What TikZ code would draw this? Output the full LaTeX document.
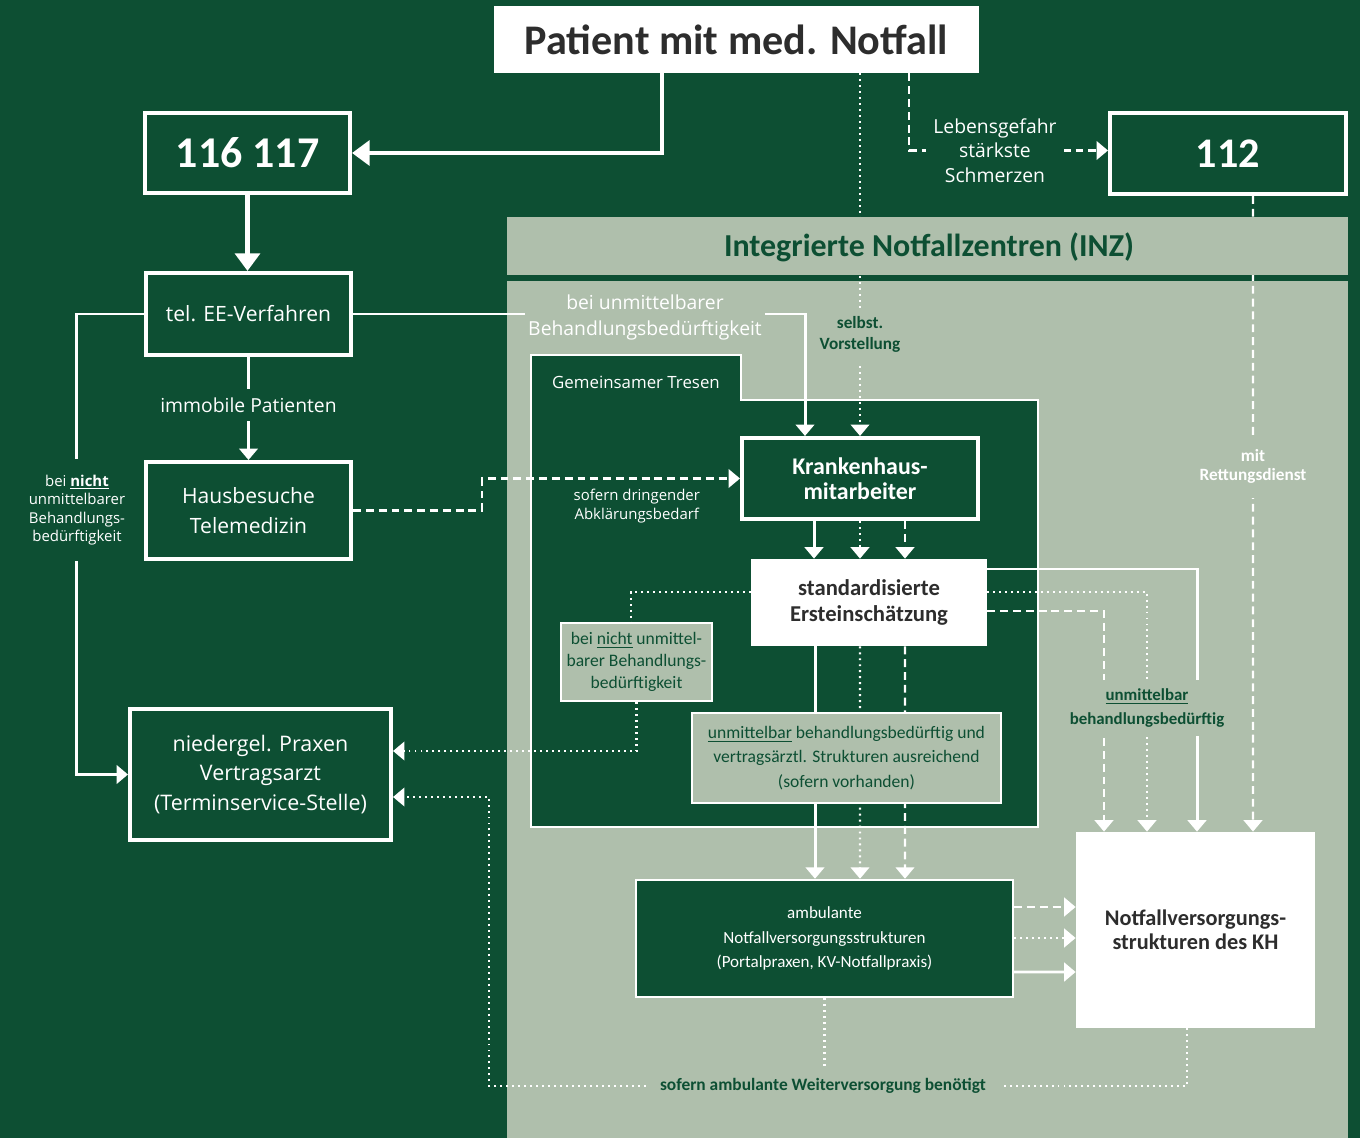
\documentclass[tikz,border=0pt]{standalone}
\usepackage{fontspec}
\setmainfont{Carlito}
\newfontfamily\lightfont{Open Sans}
\usetikzlibrary{arrows.meta}

\definecolor{inzgreen}{RGB}{13,79,51}
\definecolor{inzsage}{RGB}{175,191,172}
\definecolor{inzdark}{RGB}{45,45,45}

\newlength{\px}
\setlength{\px}{0.02cm}

\tikzset{
  box/.style={draw=white, line width=2.3pt, fill=inzgreen, text=white, align=center, inner sep=0pt},
  whitebox/.style={fill=white, text=inzdark, align=center, inner sep=0pt, font=\bfseries\fontsize{12}{14.2}\selectfont},
  sagebox/.style={draw=white, line width=1.4pt, fill=inzsage, text=inzgreen, align=center, inner sep=0pt},
  conn/.style={white, line width=1.7pt},
  big/.style={white, line width=2.6pt, -{Triangle[width=14pt,length=10pt]}},
  arr/.style={-{Triangle[width=10.5pt,length=6.5pt]}},
  dashline/.style={conn, line width=1.4pt, dash pattern=on 4.5pt off 2.8pt},
  dotline/.style={conn, line width=1.4pt, dash pattern=on 1.1pt off 2.3pt},
  onlabel/.style={align=center, inner xsep=2pt},
}

\begin{document}
\begin{tikzpicture}[x=0.02cm, y=-0.02cm]
\useasboundingbox[fill=inzgreen] (0,0) rectangle (1360,1138);

% INZ Bereich
\fill[inzsage] (507,281) rectangle (1348,1138);
\draw[white, line width=1.4pt, fill=inzgreen] (531,355) -- (741,355) -- (741,400) -- (1038,400) -- (1038,827) -- (531,827) -- cycle;
\node[text=white, font=\lightfont\fontsize{9.6}{11}\selectfont] (tresen) at (636,382) {Gemeinsamer Tresen};

% Kaesten
\node[fill=white, text=inzdark, minimum width=485\px, minimum height=67\px, font=\bfseries\fontsize{24}{26}\selectfont] (pat) at (736.5,39.5) {Patient mit med. Notfall};
\node[box, minimum width=205\px, minimum height=80\px, font=\bfseries\fontsize{25}{28}\selectfont] (n116) at (247.5,153) {116 117};
\node[box, minimum width=236\px, minimum height=81\px, font=\bfseries\fontsize{24}{28}\selectfont] (n112) at (1228,153.5) {112};
\node[box, minimum width=205\px, minimum height=82\px, font=\lightfont\fontsize{12}{14}\selectfont] (tel) at (248.5,314) {tel. EE-Verfahren};
\node[box, minimum width=205\px, minimum height=97\px, font=\lightfont\fontsize{12}{17}\selectfont] (haus) at (248.5,510.5) {Hausbesuche\\Telemedizin};
\node[box, minimum width=261\px, minimum height=131\px, font=\lightfont\fontsize{12.2}{16.7}\selectfont] (nieder) at (260.5,774.5) {niedergel. Praxen\\Vertragsarzt\\(Terminservice-Stelle)};

\node[box, minimum width=236\px, minimum height=81\px, font=\bfseries\fontsize{13.6}{14.2}\selectfont] (kh) at (860,478.5) {Krankenhaus-\\mitarbeiter};
\node[whitebox, minimum width=236\px, minimum height=87\px, font=\bfseries\fontsize{12.9}{14.7}\selectfont] (sek) at (869,602.5) {standardisierte\\Ersteinschätzung};
\node[sagebox, minimum width=151\px, minimum height=78\px, font=\fontsize{10}{12.5}\selectfont] (nicht) at (636.5,662) {bei \underline{nicht} unmittel-\\barer Behandlungs-\\bedürftigkeit};
\node[box, line width=1.4pt, minimum width=377\px, minimum height=117\px, font=\fontsize{9.7}{13.9}\selectfont] (amb) at (824.5,938.5) {ambulante\\Notfallversorgungsstrukturen\\(Portalpraxen, KV-Notfallpraxis)};
\node[whitebox, minimum width=239\px, minimum height=196\px, font=\bfseries\fontsize{12.7}{13.6}\selectfont] (kh2) at (1195.5,930) {Notfallversorgungs-\\strukturen des KH};

% Leitstelle
\draw[big] ([xshift=-74.5\px]pat.south) |- (n116.east);
\draw[big] (n116.south) -- (n116.south |- tel.north);
\draw[conn, arr] (tel) -- node[fill=inzgreen, inner ysep=5pt, yshift=2pt, text=white, font=\lightfont\fontsize{11}{12}\selectfont] {immobile Patienten} (haus);
\draw[conn, arr] (tel.west) -- ++(-67,0) |- node[pos=0.213, onlabel, fill=inzgreen, inner ysep=9pt, text=white, font=\lightfont\fontsize{8.5}{10.6}\selectfont] {bei \textbf{\underline{nicht}}\\unmittelbarer\\Behandlungs-\\bedürftigkeit} (nieder.west);
\draw[conn, arr] (tel.east) -| node[pos=0.323, onlabel, fill=inzsage, inner ysep=1pt, yshift=-2pt, text=white, font=\lightfont\fontsize{11}{14.7}\selectfont] {bei unmittelbarer\\Behandlungsbedürftigkeit} ([xshift=-55\px]kh.north);
\draw[dashline, arr] (haus.east) -- ++(129,0) |- node[pos=0.8, below=2pt, align=center, text=white, font=\lightfont\fontsize{8.5}{10.8}\selectfont] {sofern dringender\\Abklärungsbedarf} (kh.west);

% Patient direkt
\draw[dotline, arr] (kh.north |- pat.south) -- node[pos=0.716, onlabel, fill=inzsage, inner ysep=5pt, yshift=-1pt, text=inzgreen, font=\bfseries\fontsize{9.8}{12}\selectfont] {selbst.\\Vorstellung} (kh.north);
\draw[dashline, arr] ([xshift=172.5\px]pat.south) |- node[pos=0.716, onlabel, fill=inzgreen, inner xsep=4pt, text=white, font=\lightfont\fontsize{11}{13.9}\selectfont] {Lebensgefahr\\stärkste\\Schmerzen} ([yshift=3\px]n112.west);
\draw[dashline, arr] ([xshift=25\px]n112.south) -- node[pos=0.426, onlabel, fill=inzsage, inner ysep=8pt, text=white, font=\bfseries\fontsize{9.8}{10.8}\selectfont] {mit\\Rettungsdienst} ([xshift=57.5\px]kh2.north);

% Tresen
\draw[conn, arr] ([xshift=-46\px]kh.south) -- ([xshift=-55\px]sek.north);
\draw[dotline, arr] (kh.south) -- ([xshift=-9\px]sek.north);
\draw[dashline, arr] ([xshift=45\px]kh.south) -- ([xshift=36\px]sek.north);

\draw[conn, arr] ([xshift=-54\px]sek.south) -- ([xshift=-9.5\px]amb.north);
\draw[dotline, arr] ([xshift=-9\px]sek.south) -- ([xshift=35.5\px]amb.north);
\draw[dashline, arr] ([xshift=36\px]sek.south) -- ([xshift=80.5\px]amb.north);
\node[sagebox, minimum width=309\px, minimum height=90\px, font=\fontsize{10}{13.9}\selectfont] (umb) at (846.5,758) {\underline{unmittelbar} behandlungsbedürftig und\\vertragsärztl. Strukturen ausreichend\\(sofern vorhanden)};

\draw[dotline] ([yshift=10.5\px]sek.west) -| ([xshift=-5.5\px]nicht.north);
\draw[dotline, arr] (nicht.south) |- ([yshift=23.5\px]nieder.east);

\draw[conn, arr] ([yshift=33.5\px]sek.east) -| ([xshift=1.5\px]kh2.north);
\draw[dashline, arr] ([yshift=-8.5\px]sek.east) -| ([xshift=-91.5\px]kh2.north);
\draw[dotline, arr] ([yshift=10.5\px]sek.east) -| node[pos=0.742, onlabel, fill=inzsage, inner ysep=5pt, text=inzgreen, font=\bfseries\fontsize{9.6}{13.6}\selectfont] {\underline{unmittelbar}\\behandlungsbedürftig} ([xshift=-48.5\px]kh2.north);

\draw[dashline, arr] ([yshift=31.5\px]amb.east) -- ([yshift=23\px]kh2.west);
\draw[dotline, arr] ([yshift=0.5\px]amb.east) -- ([yshift=-8\px]kh2.west);
\draw[conn, arr] ([yshift=-33.5\px]amb.east) -- ([yshift=-42\px]kh2.west);

% Weiterversorgung
\node[fill=inzsage, text=inzgreen, inner xsep=8pt, inner ysep=5pt, font=\bfseries\fontsize{9.9}{11}\selectfont] (weiter) at (823,1086) {sofern ambulante Weiterversorgung benötigt};
\coordinate (bl) at (489,1086);
\draw[dotline] (amb.south) -- (amb.south |- weiter.north);
\draw[dotline] ([xshift=-8.5\px]kh2.south) |- (weiter.east);
\draw[dotline, arr] (weiter.west) -- (bl) |- ([yshift=-22.5\px]nieder.east);

% INZ Kopfzeile
\fill[inzsage] (507,217) rectangle (1348,275);
\node[text=inzgreen, font=\bfseries\fontsize{18.2}{20}\selectfont] (inz) at (929,247) {Integrierte Notfallzentren (INZ)};

\end{tikzpicture}
\end{document}
